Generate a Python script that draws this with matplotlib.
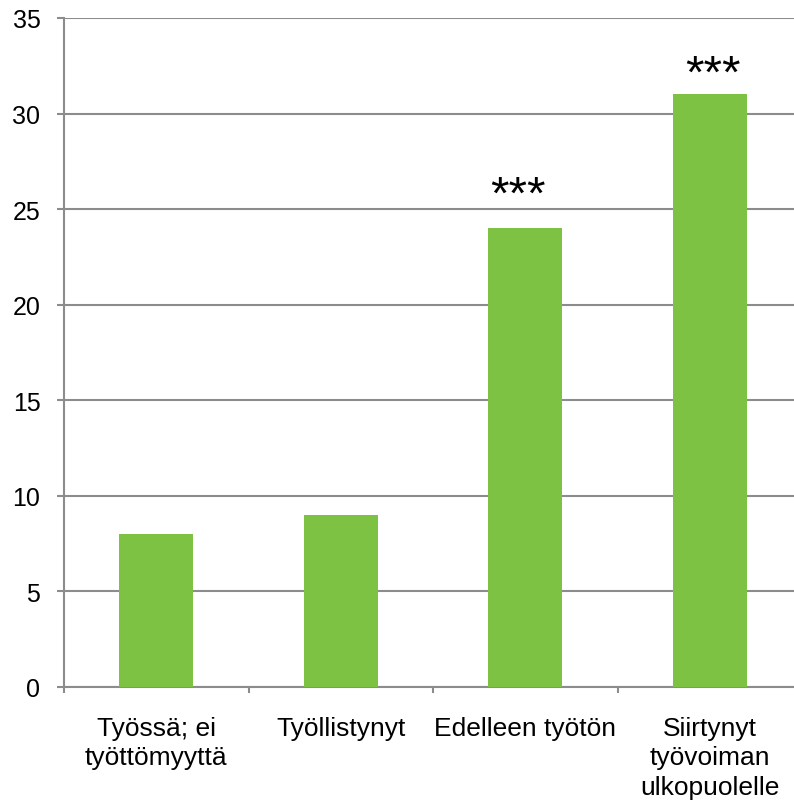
import matplotlib.pyplot as plt
import numpy as np

# Data
categories = ['Työssä; ei\ntyöttömyyttä', 'Työllistynyt', 'Edelleen työtön',
              'Siirtynyt\ntyövoiman\nulkopuolelle']
values = [8, 9, 24, 31]
stars = ['', '', '***', '***']
star_y = [0, 0, 25.1, 31.4]          # baseline height of the significance labels
star_dx = [0, 0, -0.04, 0.015]       # small horizontal shifts seen in the original

plt.rcParams['font.family'] = ['Liberation Sans', 'DejaVu Sans']

fig = plt.figure(figsize=(7.94, 8.03), dpi=100)
ax = fig.add_axes([64 / 794, (803 - 688) / 803, (802 - 64) / 794, (688 - 19) / 803])

x = np.arange(len(categories))
ax.bar(x, values, width=0.4, color='#7dc242', zorder=3)

for xi, s, sy, dx in zip(x, stars, star_y, star_dx):
    if s:
        ax.text(xi + dx, sy, s, ha='center', va='baseline', fontsize=34)

ax.set_xlim(-0.5, len(categories) - 0.5)
ax.set_ylim(0, 35)
ax.set_yticks(range(0, 36, 5))
ax.yaxis.grid(True, color='#8c8c8c', linewidth=1.5, zorder=0)

ax.set_xticks(x)
ax.set_xticklabels(categories, fontsize=19, linespacing=1.28)
ax.set_xticks(np.arange(-0.5, len(categories), 1), minor=True)
ax.tick_params(axis='x', which='major', length=0, pad=21)
ax.tick_params(axis='x', which='minor', length=4.5, width=1.5, color='#8c8c8c')
ax.tick_params(axis='y', length=5, width=1.5, color='#8c8c8c', labelsize=18, pad=12)

for side in ['top', 'right']:
    ax.spines[side].set_visible(False)
for side in ['left', 'bottom']:
    ax.spines[side].set_color('#8c8c8c')
    ax.spines[side].set_linewidth(1.5)

fig.savefig('out.png', dpi=100)
